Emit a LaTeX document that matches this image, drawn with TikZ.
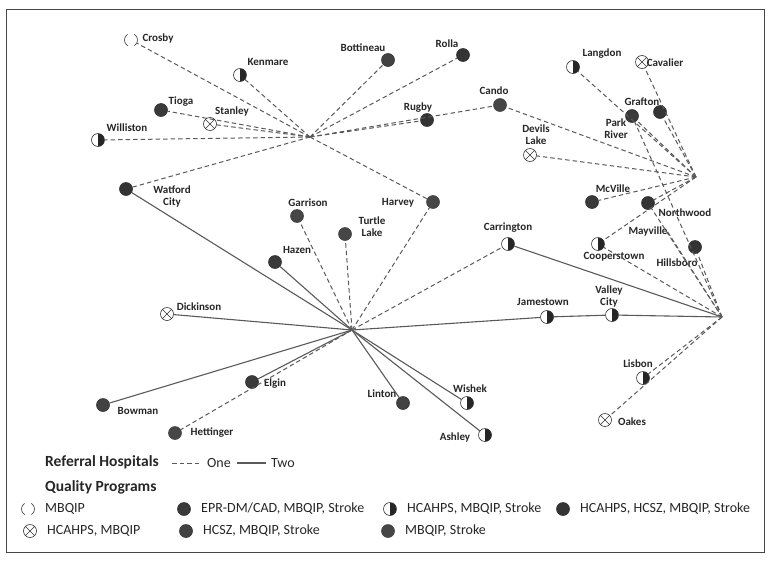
\documentclass[tikz,border=0pt]{standalone}
\usepackage{fontspec}
\setmainfont{Carlito}
\usetikzlibrary{positioning}
\definecolor{framegray}{RGB}{70,70,70}
\definecolor{linkgray}{RGB}{90,90,90}
\definecolor{eprfill}{RGB}{58,58,58}
\definecolor{hcszfill}{RGB}{66,66,66}
\definecolor{allfill}{RGB}{52,52,52}
\definecolor{msfill}{RGB}{70,70,70}

\tikzset{
    q/.style={circle, minimum size=13pt, inner sep=0pt, line width=0.6pt},
    mbq/.style={q, draw=black!75, dash pattern=on 13.6pt off 6.8pt, dash phase=6.8pt},
    hcq/.style={q, draw=black!80, path picture={
        \draw[black!80, line width=0.6pt] (path picture bounding box.north west) -- (path picture bounding box.south east)
            (path picture bounding box.north east) -- (path picture bounding box.south west);}},
    halfq/.style={q, draw=black!80, path picture={
        \fill[black!85] (path picture bounding box.north) rectangle (path picture bounding box.south east);}},
    eprq/.style={q, fill=eprfill, draw=black!80},
    hcszq/.style={q, fill=hcszfill, draw=black!80},
    allq/.style={q, fill=allfill, draw=black!80},
    msq/.style={q, fill=msfill, draw=msfill},
    town/.style={font=\fontsize{11}{12}\selectfont\bfseries, text=black!85, inner sep=0pt, align=center},
    legtext/.style={font=\fontsize{14}{15}\selectfont, text=black!85, inner sep=0pt, anchor=west},
    leghead/.style={font=\fontsize{15.5}{17}\selectfont\bfseries, text=black!85, inner sep=0pt, anchor=west},
    oneref/.style={linkgray, line width=1pt, dash pattern=on 4.5pt off 3pt},
    tworef/.style={linkgray, line width=1.1pt},
}

\begin{document}
\begin{tikzpicture}[x=1pt, y=-1pt]
    \useasboundingbox (0,0) rectangle (770,560);
    \fill[white] (0,0) rectangle (770,560);
    \draw[framegray, line width=1pt] (6,9) rectangle (764,552);

    % Referral hubs
    \coordinate (minot) at (310,137);
    \coordinate (bismarck) at (352,330);
    \coordinate (grandforks) at (696,177);
    \coordinate (fargo) at (722,317);

    % Northwest
    \node[mbq] (crosby) at (131,40) {};
    \node[town] (crosbyL) at (158,39) {Crosby};
    \node[halfq] (kenmare) at (240,75) {};
    \node[town] (kenmareL) at (268,62) {Kenmare};
    \node[eprq] (tioga) at (161,110) {};
    \node[town] (tiogaL) at (181,102) {Tioga};
    \node[hcq] (stanley) at (210,124) {};
    \node[town] (stanleyL) at (232,112) {Stanley};
    \node[halfq] (williston) at (98,140) {};
    \node[town] (willistonL) at (127,128) {Williston};
    \node[allq] (watford) at (126,189) {};
    \node[town] (watfordL) at (172,197) {Watford\\City};
    \node[hcszq] (bottineau) at (388,60) {};
    \node[town] (bottineauL) at (363,48) {Bottineau};
    \node[allq] (rolla) at (463,55) {};
    \node[town] (rollaL) at (447,44) {Rolla};
    \node[allq] (rugby) at (427,120) {};
    \node[town] (rugbyL) at (418,108) {Rugby};
    \node[msq] (cando) at (500,105) {};
    \node[town] (candoL) at (494,91) {Cando};
    \node[msq] (harvey) at (433,202) {};
    \node[town] (harveyL) at (398,203) {Harvey};

    % Southwest
    \node[msq] (garrison) at (297,216) {};
    \node[town] (garrisonL) at (308,203) {Garrison};
    \node[msq] (turtle) at (345,234) {};
    \node[town] (turtleL) at (372,227) {Turtle\\Lake};
    \node[eprq] (hazen) at (275,262) {};
    \node[town] (hazenL) at (297,250) {Hazen};
    \node[hcq] (dickinson) at (167,314) {};
    \node[town] (dickinsonL) at (199,307) {Dickinson};
    \node[eprq] (elgin) at (252,382) {};
    \node[town] (elginL) at (275,384) {Elgin};
    \node[hcszq] (bowman) at (103,405) {};
    \node[town] (bowmanL) at (138,411) {Bowman};
    \node[msq] (hettinger) at (175,433) {};
    \node[town] (hettingerL) at (212,433) {Hettinger};
    \node[hcszq] (linton) at (403,403) {};
    \node[town] (lintonL) at (382,394) {Linton};
    \node[halfq] (wishek) at (467,403) {};
    \node[town] (wishekL) at (470,389) {Wishek};
    \node[halfq] (ashley) at (485,435) {};
    \node[town] (ashleyL) at (455,437) {Ashley};
    \node[halfq] (carrington) at (508,244) {};
    \node[town] (carringtonL) at (508,228) {Carrington};
    \node[halfq] (jamestown) at (547,317) {};
    \node[town] (jamestownL) at (543,302) {Jamestown};
    \node[halfq] (valley) at (612,315) {};
    \node[town] (valleyL) at (609,296) {Valley\\City};

    % Northeast
    \node[halfq] (langdon) at (573,67) {};
    \node[town] (langdonL) at (602,54) {Langdon};
    \node[hcq] (cavalier) at (642,62) {};
    \node[town] (cavalierL) at (665,63) {Cavalier};
    \node[allq] (grafton) at (660,112) {};
    \node[town] (graftonL) at (642,102) {Grafton};
    \node[eprq] (parkriver) at (632,116) {};
    \node[town] (parkriverL) at (616,129) {Park\\River};
    \node[hcq] (devils) at (530,155) {};
    \node[town] (devilsL) at (536,135) {Devils\\Lake};
    \node[eprq] (mcville) at (592,202) {};
    \node[town] (mcvilleL) at (613,189) {McVille};
    \node[allq] (northwood) at (648,203) {};
    \node[town] (northwoodL) at (685,213) {Northwood};
    \node[halfq] (cooperstown) at (598,244) {};
    \node[town] (cooperstownL) at (614,257) {Cooperstown};
    \node[town] (mayville) at (648,232) {Mayville};
    \node[allq] (hillsboro) at (695,247) {};
    \node[town] (hillsboroL) at (677,263) {Hillsboro};
    \node[halfq] (lisbon) at (643,378) {};
    \node[town] (lisbonL) at (638,364) {Lisbon};
    \node[hcq] (oakes) at (605,420) {};
    \node[town] (oakesL) at (632,422) {Oakes};

    % Links
    \foreach \n in {crosby,kenmare,tioga,stanley,williston,watford,bottineau,rolla,rugby,cando,harvey}
        \draw[oneref] (minot) -- (\n);
    \foreach \n in {garrison,turtle,harvey,carrington,hettinger}
        \draw[oneref] (bismarck) -- (\n);
    \foreach \n in {watford,hazen,dickinson,elgin,bowman,linton,wishek,ashley,jamestown}
        \draw[tworef] (bismarck) -- (\n);
    \draw[tworef] (jamestown) -- (valley) -- (fargo);
    \draw[tworef] (carrington) -- (fargo);
    \foreach \n in {cando,devils,langdon,cavalier,grafton,parkriver,mcville,northwood,cooperstown}
        \draw[oneref] (grandforks) -- (\n);
    \foreach \n in {cooperstown,hillsboro,parkriver,northwood,lisbon,oakes}
        \draw[oneref] (fargo) -- (\n);
    \draw[oneref] (mayville.east) -- (fargo);

    % Legend
    \node[leghead] (refhead) at (45,462) {Referral Hospitals};
    \coordinate (oneA) at (172,463);
    \coordinate (oneB) at (202,463);
    \draw[oneref] (oneA) -- (oneB);
    \node[legtext] (oneL) at (207,463) {One};
    \coordinate (twoA) at (237,463);
    \coordinate (twoB) at (266,463);
    \draw[tworef] (twoA) -- (twoB);
    \node[legtext] (twoL) at (271,463) {Two};
    \node[leghead] (qualhead) at (45,487) {Quality Programs};

    \foreach \x/\y/\sty/\lab in {28/509/mbq/MBQIP, 184/509/eprq/{EPR-DM/CAD, MBQIP, Stroke},
        390/509/halfq/{HCAHPS, MBQIP, Stroke}, 563/509/allq/{HCAHPS, HCSZ, MBQIP, Stroke},
        30/531/hcq/{HCAHPS, MBQIP}, 186/531/hcszq/{HCSZ, MBQIP, Stroke}, 388/531/msq/{MBQIP, Stroke}} {
        \node[\sty] (key\x\y) at (\x,\y) {};
        \node[legtext] at ([xshift=17pt]key\x\y.center) {\lab};
    }
\end{tikzpicture}
\end{document}
